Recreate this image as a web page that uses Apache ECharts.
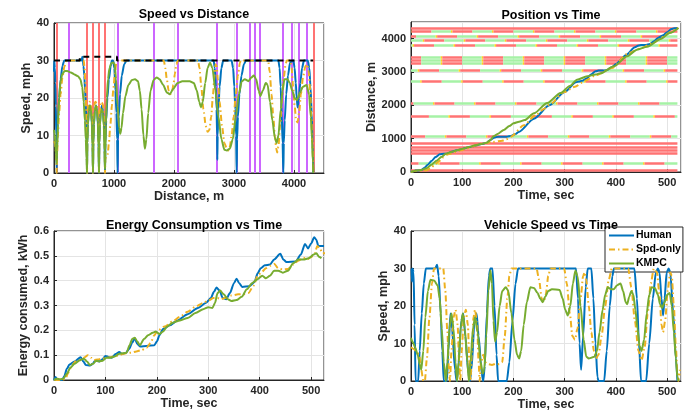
<!DOCTYPE html>
<html>
<head>
<meta charset="utf-8">
<script src="https://cdn.jsdelivr.net/npm/echarts@6/dist/echarts.min.js"></script>
<style>
  html, body { margin: 0; background: #fff; }
  #chart { width: 694px; height: 416px; }
</style>
</head>
<body>
<div id="chart"></div>
<script>
// series names
const names = ['Human', 'Spd-only', 'KMPC']

// Speed vs Distance: [distance m, speed mph]
const humanSpeedByDist = [[0,27],[4,30],[8,30],[14,28],[22,24],[30,18],[38,10],[44,0],[52,8],[65,14],[85,20],[110,25],[140,28.5],[170,30],[460,30],[472,31],[482,30],[492,28.5],[505,26],[518,22],[530,18],[540,13],[546,8],[550,0],[556,8],[566,13],[580,16.5],[600,18],[618,16.5],[632,13],[642,8],[650,0],[656,8],[666,13],[680,16.5],[700,18],[718,16.5],[732,13],[742,8],[750,0],[756,8],[766,13],[780,16.5],[800,18],[818,16.5],[832,13],[842,8],[850,0],[858,8],[870,14],[890,20],[915,25],[945,28.5],[965,30],[985,30],[1005,28],[1025,22],[1040,16],[1052,9],[1060,0],[1068,9],[1080,15],[1100,21],[1130,26],[1170,29],[1210,30],[2660,30],[2680,28],[2697,23],[2710,17],[2718,10],[2722,3.5],[2728,10],[2740,17],[2760,23],[2790,28],[2820,30],[2960,30],[2985,28],[3005,23],[3022,17],[3035,10],[3044,0],[3052,9],[3065,15],[3090,21],[3125,26],[3165,29],[3200,30],[3740,30],[3760,28],[3778,23],[3795,16],[3810,8],[3822,0],[3830,8],[3845,14],[3870,21],[3900,26],[3935,29.5],[3990,30],[4010,28],[4030,24],[4045,20],[4060,17.5],[4080,20],[4105,24],[4135,28],[4165,30],[4230,30],[4255,28],[4275,23],[4295,16],[4310,8],[4322,0]]
const spdSpeedByDist = [[0,8.5],[15,8],[28,6.5],[36,4],[44,0],[52,5],[65,10],[85,16],[110,21],[140,25.5],[175,28.5],[210,30],[495,30],[510,28],[522,24],[532,19.5],[540,14],[546,8],[550,0],[555,9],[562,15],[572,18.5],[590,19],[612,18.5],[626,17],[636,14],[644,8],[650,0],[655,9],[662,15],[672,18.5],[690,19],[712,18.5],[726,17],[736,14],[744,8],[750,0],[755,9],[762,15],[772,18.5],[790,19],[812,18.5],[826,17],[836,14],[844,8],[850,0],[856,3.5],[866,4.5],[880,4.5],[895,5],[915,8],[940,13],[965,18],[990,22.5],[1015,26.5],[1040,29.5],[1060,30],[1830,30],[1855,28],[1880,25],[1910,22],[1940,21],[1965,21.5],[1990,23.5],[2015,26.5],[2040,29],[2065,30],[2400,30],[2425,28],[2455,23],[2490,17],[2530,12.5],[2560,11],[2590,11.5],[2620,15],[2650,21],[2675,26],[2695,29],[2712,28.5],[2730,25],[2760,19],[2800,12.5],[2840,8],[2880,6.5],[2905,6],[2930,7],[2960,10],[2995,15],[3030,21],[3065,26],[3100,29.5],[3120,30],[3570,30],[3595,27],[3625,21],[3655,15],[3685,9],[3705,6.5],[3720,5.5],[3740,7],[3770,13],[3800,20],[3830,25.5],[3860,29],[3880,30],[3940,30],[3960,28],[3985,23],[4010,18],[4035,14],[4060,13.5],[4085,16],[4115,21],[4150,25.5],[4190,28.5],[4220,29],[4245,27],[4270,22],[4290,15],[4305,8],[4322,0]]
const kmpcSpeedByDist = [[0,11.5],[10,10.5],[22,8],[34,5],[44,2.5],[52,6],[65,13],[85,20],[110,24.5],[140,26.5],[180,27.2],[220,27.2],[280,26.8],[340,26.3],[400,25.8],[440,25],[470,23],[495,19],[515,14],[530,9],[542,4],[550,0],[555,8],[565,13],[580,16.5],[598,18],[615,17],[630,13.5],[642,7],[650,0],[655,8],[665,13],[680,16.5],[698,18],[715,17],[730,13.5],[742,7],[750,0],[755,8],[765,13],[780,16],[798,17],[815,16],[830,12.5],[842,6],[850,1],[856,6],[866,13],[880,20],[900,25],[925,28],[955,29.3],[985,29.5],[1010,29],[1035,25],[1060,18],[1085,12],[1105,10.5],[1125,12],[1150,16],[1190,20.5],[1240,23.5],[1300,24.8],[1350,25],[1400,24.5],[1430,22],[1460,17],[1490,10],[1515,6.5],[1540,9],[1570,16],[1610,22],[1660,24.8],[1710,25.5],[1760,25],[1820,23.5],[1880,21.5],[1930,21],[1990,22.5],[2060,24],[2140,24.5],[2260,24.5],[2330,24],[2380,22],[2420,19],[2450,17.5],[2480,19],[2520,24],[2560,28],[2600,29.5],[2640,28],[2690,22],[2740,15],[2790,9],[2840,6.2],[2880,6],[2930,6.5],[2980,9],[3030,15],[3080,21],[3130,24.5],[3180,25],[3240,24.5],[3290,25.5],[3330,26],[3370,25],[3410,22],[3440,20.5],[3480,22],[3530,24],[3560,23.5],[3600,19],[3640,14],[3680,9.5],[3710,8],[3740,10],[3780,17],[3810,22],[3840,25],[3890,25],[3930,24],[3970,22],[4010,20],[4050,19.5],[4100,21.5],[4150,23],[4210,23.5],[4250,21],[4280,15],[4300,9],[4315,3],[4322,0]]
const speedLimit = [[0,30],[430,30],[430,31],[1050,31],[1050,30],[4320,30]]

// stop signs and traffic lights, m
const stopDist = [44, 550, 650, 750, 850, 4322]
const sigDist = [250, 1060, 1660, 2070, 2720, 3040, 3270, 3350, 3430, 3810, 3960, 4080, 4220]
// signal timing, s
const sigGreenStart = [15, 28, 35, 5, 60, 55, 20, 20, 20, 45, 65, 10, 40]
const sigCycle = 80
const sigGreen = 38
const sigYellow = 3
const sigEnd = 520

// Position vs Time: [time s, distance m]
const humanPos = [[0,0],[5,25],[9,44],[14,44],[20,60],[26,120],[32,210],[40,330],[48,450],[56,530],[64,550],[70,550],[77,590],[83,625],[89,650],[96,675],[102,700],[108,728],[115,750],[122,775],[128,800],[134,828],[141,850],[148,880],[155,960],[162,1030],[170,1060],[187,1060],[195,1080],[203,1130],[210,1200],[240,1600],[270,2000],[300,2400],[322,2690],[328,2715],[334,2735],[342,2800],[352,2930],[360,3020],[366,3044],[377,3044],[384,3070],[392,3140],[400,3240],[420,3510],[437,3740],[444,3795],[449,3810],[459,3810],[466,3840],[474,3920],[482,4020],[492,4100],[500,4190],[508,4290],[514,4310],[520,4322]]
const spdPos = [[0,0],[10,38],[24,44],[30,50],[38,110],[45,200],[55,330],[63,440],[70,520],[77,550],[88,600],[97,650],[108,700],[117,750],[127,800],[136,850],[145,870],[160,900],[178,940],[186,980],[195,1060],[220,1400],[245,1730],[260,1900],[272,2040],[299,2400],[320,2560],[340,2740],[361,2900],[392,3120],[424,3560],[450,3720],[474,3880],[492,4050],[506,4200],[522,4322]]
const kmpcPos = [[0,0],[10,45],[20,60],[30,110],[40,220],[50,340],[60,460],[68,550],[79,600],[90,650],[101,700],[113,750],[125,800],[140,850],[148,880],[155,960],[161,1070],[170,1150],[181,1260],[192,1380],[200,1460],[211,1510],[222,1560],[240,1760],[266,2070],[292,2370],[310,2580],[324,2770],[344,2870],[360,2925],[370,2960],[396,3170],[422,3470],[441,3670],[461,3760],[487,3990],[505,4170],[522,4322]]

// Energy consumed: [time s, kWh]
const humanEnergy = [[0,0],[3,0.012],[6,0.002],[10,0],[16,0],[20,0.015],[25,0.045],[30,0.062],[40,0.075],[52,0.092],[57,0.075],[62,0.06],[70,0.058],[75,0.065],[80,0.078],[88,0.075],[95,0.085],[100,0.097],[107,0.092],[112,0.09],[120,0.105],[127,0.113],[132,0.105],[140,0.11],[146,0.125],[152,0.15],[157,0.168],[162,0.145],[168,0.135],[180,0.137],[195,0.14],[200,0.155],[205,0.18],[212,0.205],[225,0.22],[240,0.24],[260,0.265],[280,0.29],[295,0.31],[305,0.33],[311,0.355],[316,0.372],[322,0.36],[328,0.33],[335,0.325],[342,0.35],[350,0.39],[355,0.408],[360,0.39],[366,0.375],[380,0.378],[390,0.395],[396,0.43],[402,0.45],[410,0.462],[420,0.465],[428,0.485],[440,0.508],[446,0.485],[452,0.475],[470,0.477],[480,0.505],[488,0.548],[494,0.53],[500,0.55],[506,0.575],[510,0.565],[514,0.54],[525,0.54]]
const spdEnergy = [[0,0],[15,0],[22,0.005],[28,0.03],[35,0.06],[42,0.075],[50,0.08],[58,0.09],[66,0.1],[72,0.09],[78,0.08],[85,0.083],[92,0.085],[100,0.088],[110,0.092],[120,0.097],[130,0.102],[140,0.108],[150,0.11],[160,0.115],[170,0.12],[180,0.13],[188,0.15],[195,0.18],[202,0.2],[215,0.215],[230,0.235],[245,0.255],[260,0.275],[275,0.295],[290,0.31],[300,0.32],[310,0.33],[318,0.33],[325,0.325],[332,0.33],[345,0.34],[358,0.345],[368,0.345],[378,0.35],[388,0.38],[396,0.42],[404,0.435],[412,0.45],[420,0.46],[428,0.468],[436,0.45],[445,0.445],[455,0.447],[465,0.465],[475,0.48],[485,0.492],[492,0.485],[500,0.495],[507,0.51],[512,0.54],[517,0.53],[522,0.51],[527,0.51]]
const kmpcEnergy = [[0,0],[6,0.005],[12,0.003],[18,0.005],[25,0.025],[32,0.05],[40,0.065],[50,0.08],[58,0.086],[64,0.075],[70,0.06],[76,0.065],[82,0.078],[88,0.075],[95,0.078],[102,0.09],[110,0.09],[118,0.095],[126,0.105],[134,0.108],[141,0.11],[147,0.14],[152,0.165],[157,0.17],[162,0.155],[167,0.14],[175,0.165],[183,0.18],[192,0.19],[198,0.195],[205,0.185],[212,0.195],[220,0.215],[230,0.23],[245,0.24],[260,0.25],[275,0.27],[290,0.285],[300,0.293],[308,0.29],[313,0.31],[318,0.35],[323,0.36],[330,0.345],[338,0.325],[345,0.318],[355,0.322],[365,0.335],[375,0.365],[385,0.39],[395,0.405],[405,0.42],[412,0.41],[420,0.42],[428,0.44],[436,0.44],[445,0.432],[455,0.44],[465,0.47],[475,0.485],[485,0.485],[495,0.49],[505,0.505],[510,0.51],[516,0.495],[520,0.49]]

// Vehicle speed: [time s, mph]
const humanSpeed = [[1,30],[2,26.5],[3,30],[5,29],[7,15],[9,0],[14,0],[17,8],[21,18],[25,26],[29,30],[47,30],[51,31],[54,28],[58,18],[61,8],[64,0],[70,0],[73,8],[77,18],[80,14],[86,3],[89,0],[92,3],[98,16],[102,18],[106,12],[112,2],[115,0],[118,3],[124,16],[128,18],[132,12],[138,2],[141,0],[144,4],[148,18],[152,28],[155,30],[159,30],[163,20],[167,7],[170,0],[187,0],[192,5],[198,16],[204,26],[209,30],[322,30],[326,22],[329,10],[332,3],[336,12],[341,25],[345,30],[352,30],[356,22],[360,10],[364,1],[366,0],[377,0],[382,8],[388,20],[393,28],[396,30],[436,30],[441,22],[445,10],[449,0],[459,0],[465,10],[472,22],[478,29],[482,30],[485,29],[489,22],[492,17.5],[495,22],[499,29],[503,30],[506,29],[512,18],[517,6],[520,0]]
const spdSpeed = [[0,9],[6,8.5],[12,7.5],[16,7],[20,3],[24,0],[27,0],[31,6],[36,17],[41,26],[45,30],[63,30],[67,24],[71,13],[74,3],[76,0],[79,8],[83,17],[87,19],[91,15],[94,5],[96,0],[99,8],[103,17],[107,19],[111,15],[114,5],[116,0],[119,8],[122,17],[125,19],[129,15],[132,5],[134,0],[137,5],[141,7],[145,5],[150,4.5],[158,4.3],[166,4.6],[172,4.5],[178,5],[183,12],[188,22],[192,28],[196,30],[245,30],[250,27],[255,22],[259,21],[263,23],[268,28],[272,30],[299,30],[304,26],[310,18],[315,12],[320,11],[325,14],[331,22],[336,28],[339,29],[342,27],[347,20],[352,13],[357,8],[361,6],[366,7],[372,12],[379,20],[386,27],[392,30],[424,30],[430,25],[437,16],[444,8],[450,5.5],[456,9],[462,18],[468,26],[474,30],[480,29],[485,23],[489,15],[492,13],[496,16],[501,24],[506,29],[509,28],[513,20],[517,9],[520,2],[522,0],[525,3]]
const kmpcSpeed = [[0,11.5],[3,10.5],[8,9],[13,7],[18,4],[20,3],[24,8],[28,17],[33,24],[38,27],[45,26.8],[52,25.5],[56,22],[60,14],[64,5],[68,0],[71,5],[75,14],[79,18],[83,14],[87,5],[90,0],[93,5],[97,14],[101,18],[105,14],[110,5],[113,0],[116,5],[121,14],[125,17],[130,13],[136,5],[140,2],[143,3],[147,12],[151,24],[155,29.5],[158,26],[161,16],[164,10.5],[168,13],[173,20],[178,24],[185,25],[190,24],[196,18],[202,11],[207,7],[211,6],[215,8],[220,15],[226,21],[233,25],[240,24.8],[247,23.5],[252,22],[257,21],[262,22.5],[268,24],[275,24.5],[290,24.3],[296,22],[301,19],[306,17.5],[311,20],[316,26],[321,29.5],[325,28],[331,20],[337,11],[342,6.5],[347,6],[352,6.2],[358,6.5],[363,8],[368,13],[374,19],[379,23],[384,25],[390,24.5],[396,24.5],[402,25.5],[409,26],[414,24],[419,21],[422,20.5],[426,22.5],[430,24],[434,23],[438,19],[442,14],[446,9.5],[450,8],[455,11],[460,18],[465,23],[470,25],[476,24.8],[482,23],[486,20.5],[490,19.5],[495,21],[500,23],[505,23.5],[509,20],[513,13],[517,6],[520,1],[522,0]]

const BLUE = '#0072BD', ORANGE = '#EDB120', GREEN = '#77AC30'
const LRED = '#ff7373', PURPLE = '#cc66ff', LGREEN = '#a6f2a6', YELLOW = '#ffd21f'
const INK = '#262626'
const FONT = '"Liberation Sans", Arial, Helvetica, sans-serif'

const chart = echarts.init(document.getElementById('chart'))

const grids = [
  { left: 54, top: 23, width: 270, height: 150 },
  { left: 411, top: 22, width: 270, height: 150 },
  { left: 54, top: 231, width: 270, height: 149 },
  { left: 411, top: 231, width: 270, height: 150 },
].map(g => Object.assign(g, { show: true, borderColor: INK, borderWidth: 1, backgroundColor: '#fff' }))

function axis(gridIndex, max, interval, name, nameGap, showMax) {
  return {
    type: 'value', gridIndex, min: 0, max, interval,
    name, nameLocation: 'middle', nameGap,
    nameTextStyle: { fontFamily: FONT, fontWeight: 'bold', fontSize: 12.5, color: INK },
    axisLine: { show: true, onZero: false, lineStyle: { color: INK } },
    axisTick: { show: true, inside: true, length: 3, lineStyle: { color: INK } },
    axisLabel: {
      fontFamily: FONT, fontWeight: 'bold', fontSize: 11, color: INK, margin: 5,
      showMaxLabel: showMax, formatter: v => String(Math.round(v * 100) / 100),
    },
    splitLine: { show: true, lineStyle: { color: '#e4e4e4', width: 1 } },
  }
}

function curve(name, data, color, xi, dashed) {
  return {
    name, type: 'line', data, xAxisIndex: xi, yAxisIndex: xi, z: 5,
    showSymbol: false, symbol: 'none', smooth: 0.25, smoothMonotone: 'x',
    lineStyle: { color, width: 2, type: dashed ? [6, 3, 1.5, 3] : 'solid' },
    itemStyle: { color },
  }
}

// traffic signal phase bars built from timing arrays
function signalBars() {
  const segs = []
  sigDist.forEach((d, i) => {
    let s = sigGreenStart[i] - sigCycle
    while (s < sigEnd) {
      const phases = [
        [s, s + sigGreen, LGREEN],
        [s + sigGreen, s + sigGreen + sigYellow, YELLOW],
        [s + sigGreen + sigYellow, s + sigCycle, LRED],
      ]
      phases.forEach(([a, b, c]) => {
        const a2 = Math.max(a, 0), b2 = Math.min(b, sigEnd)
        if (b2 > a2) segs.push({ coords: [[a2, d], [b2, d]], lineStyle: { color: c } })
      })
      s += sigCycle
    }
  })
  stopDist.forEach(d => segs.push({ coords: [[0, d], [sigEnd, d]], lineStyle: { color: LRED } }))
  return segs
}

const vLines = stopDist.map(d => ({ xAxis: d, lineStyle: { color: LRED } }))
  .concat(sigDist.map(d => ({ xAxis: d, lineStyle: { color: PURPLE } })))

const titleStyle = { fontFamily: FONT, fontWeight: 'bold', fontSize: 12.5, color: '#000' }

const option = {
  animation: false,
  backgroundColor: '#fff',
  title: [
    { text: 'Speed vs Distance', left: 189, top: 3, textAlign: 'center', textStyle: titleStyle },
    { text: 'Position vs Time', left: 546, top: 4, textAlign: 'center', textStyle: titleStyle },
    { text: 'Energy Consumption vs Time', left: 189, top: 214, textAlign: 'center', textStyle: titleStyle },
    { text: 'Vehicle Speed vs Time', left: 546, top: 214, textAlign: 'center', textStyle: titleStyle },
  ],
  legend: {
    data: names, orient: 'vertical', left: 605, top: 227,
    itemWidth: 25, itemHeight: 9, itemGap: 3, padding: [3, 2, 3, 3],
    itemStyle: { opacity: 0 },
    backgroundColor: '#fff', borderColor: INK, borderWidth: 1, borderRadius: 0,
    textStyle: { fontFamily: FONT, fontWeight: 'bold', fontSize: 10.5, color: '#000', padding: [0, 0, 0, -3] },
  },
  grid: grids,
  xAxis: [
    axis(0, 4500, 1000, 'Distance, m', 15, false),
    axis(1, 527, 100, 'Time, sec', 15, false),
    axis(2, 525, 100, 'Time, sec', 15, false),
    axis(3, 527, 100, 'Time, sec', 15, false),
  ],
  yAxis: [
    axis(0, 40, 10, 'Speed, mph', 20, true),
    axis(1, 4500, 1000, 'Distance, m', 32, false),
    axis(2, 0.6, 0.1, 'Energy consumed, kWh', 24, true),
    axis(3, 40, 10, 'Speed, mph', 20, true),
  ],
  series: [
    // Speed vs Distance
    { type: 'line', data: [], xAxisIndex: 0, yAxisIndex: 0, z: 2,
      markLine: { silent: true, symbol: 'none', label: { show: false }, animation: false,
        lineStyle: { width: 2, type: 'solid' }, data: vLines } },
    curve(names[0], humanSpeedByDist, BLUE, 0),
    curve(names[1], spdSpeedByDist, ORANGE, 0, true),
    curve(names[2], kmpcSpeedByDist, GREEN, 0),
    { type: 'line', data: speedLimit, xAxisIndex: 0, yAxisIndex: 0, z: 6, symbol: 'none',
      lineStyle: { color: '#000', width: 2, type: [6, 5] } },
    // Position vs Time
    { type: 'lines', coordinateSystem: 'cartesian2d', xAxisIndex: 1, yAxisIndex: 1, z: 2,
      polyline: false, silent: true, lineStyle: { width: 2.5, opacity: 1 }, data: signalBars() },
    curve(names[0], humanPos, BLUE, 1),
    curve(names[1], spdPos, ORANGE, 1, true),
    curve(names[2], kmpcPos, GREEN, 1),
    // Energy
    curve(names[0], humanEnergy, BLUE, 2),
    curve(names[1], spdEnergy, ORANGE, 2, true),
    curve(names[2], kmpcEnergy, GREEN, 2),
    // Vehicle speed
    curve(names[0], humanSpeed, BLUE, 3),
    curve(names[1], spdSpeed, ORANGE, 3, true),
    curve(names[2], kmpcSpeed, GREEN, 3),
  ],
}

chart.setOption(option)
</script>
</body>
</html>
